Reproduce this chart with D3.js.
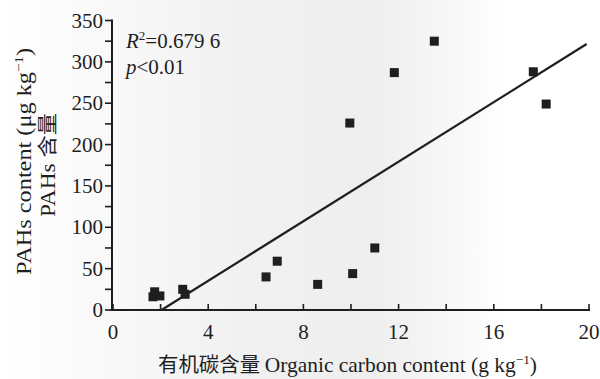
<!DOCTYPE html>
<html>
<head>
<meta charset="utf-8">
<script src="https://cdn.jsdelivr.net/npm/d3@7"></script>
<style>
  body { margin: 0; background: #fff; }
  svg text { font-family: "Liberation Serif", "DejaVu Serif", serif; fill: #1e1e1e; }
</style>
</head>
<body>
<svg width="600" height="379"></svg>
<script>
// Data
const carbon = [1.75, 1.68, 1.97, 2.93, 3.03, 6.43, 6.9, 8.6, 10.07, 11.0, 9.95, 11.82, 13.5, 17.66, 18.2];
const pahs = [22, 16, 17, 25, 19, 40, 59, 31, 44, 75, 226, 287, 325, 288, 249];
const fitX = [2.04, 19.9];
const fitY = [0, 321.6];
const xTicks = [0, 4, 8, 12, 16, 20];
const yTicks = [0, 50, 100, 150, 200, 250, 300, 350];

const svg = d3.select("svg");

// Scan-like shading
const defs = svg.append("defs");
const grad = defs.append("linearGradient").attr("id", "shade");
grad.append("stop").attr("offset", "0%").attr("stop-color", "#fff");
grad.append("stop").attr("offset", "40%").attr("stop-color", "#f1f1f1");
grad.append("stop").attr("offset", "62%").attr("stop-color", "#eeeeee");
grad.append("stop").attr("offset", "85%").attr("stop-color", "#fff");
svg.append("rect").attr("width", 600).attr("height", 379).attr("fill", "url(#shade)");

const x = d3.scaleLinear().domain([0, 20]).range([113, 589]);
const y = d3.scaleLinear().domain([0, 350]).range([310, 20.5]);

const ink = "#1e1e1e";

// x axis
const xAxis = svg.append("g").attr("transform", "translate(0,310)");
xAxis.append("line").attr("x1", 110).attr("x2", x(20) + 1).attr("stroke", ink).attr("stroke-width", 2);
xAxis.selectAll(".xt").data(d3.range(0, 21, 2)).enter().append("line")
  .attr("x1", d => x(d)).attr("x2", d => x(d))
  .attr("y1", 0).attr("y2", -6)
  .attr("stroke", ink).attr("stroke-width", 1.6);
xAxis.selectAll(".xl").data(xTicks).enter().append("text")
  .attr("x", d => x(d)).attr("y", 29)
  .attr("text-anchor", "middle")
  .attr("font-size", 21)
  .text(d => d);

// y axis
const yAxis = svg.append("g").attr("transform", "translate(112,0)");
yAxis.append("line").attr("y1", y(350) - 1).attr("y2", 311).attr("stroke", ink).attr("stroke-width", 2);
yAxis.selectAll(".yt").data(d3.range(0, 351, 25)).enter().append("line")
  .attr("y1", d => y(d)).attr("y2", d => y(d))
  .attr("x1", 0).attr("x2", -7)
  .attr("stroke", ink).attr("stroke-width", 1.6);
yAxis.selectAll(".yl").data(yTicks).enter().append("text")
  .attr("x", -9).attr("y", d => y(d) + 7)
  .attr("text-anchor", "end")
  .attr("font-size", 21)
  .text(d => d);

// axis titles
const xt = svg.append("text")
  .attr("x", 158).attr("y", 372)
  .attr("font-size", 21)
  .attr("textLength", 379)
  .attr("lengthAdjust", "spacingAndGlyphs");
xt.append("tspan").style("font-family", "'Noto Sans CJK SC', sans-serif").attr("font-size", 20).text("有机碳含量 ");
xt.append("tspan").text("Organic carbon content (g kg");
xt.append("tspan").attr("dy", -8).attr("font-size", 13).text("−1");
xt.append("tspan").attr("dy", 8).text(")");

const yt1 = svg.append("text")
  .attr("transform", "translate(31,275) rotate(-90)")
  .attr("font-size", 21)
  .attr("textLength", 227)
  .attr("lengthAdjust", "spacingAndGlyphs");
yt1.append("tspan").text("PAHs content (μg kg");
yt1.append("tspan").attr("dy", -8).attr("font-size", 13).text("−1");
yt1.append("tspan").attr("dy", 8).text(")");

const yt2 = svg.append("text")
  .attr("transform", "translate(55,217) rotate(-90)")
  .attr("font-size", 21)
  .attr("textLength", 104)
  .attr("lengthAdjust", "spacingAndGlyphs");
yt2.append("tspan").text("PAHs ");
yt2.append("tspan").style("font-family", "'Noto Sans CJK SC', sans-serif").attr("font-size", 20).text("含量");

// fit line
svg.append("line")
  .attr("x1", x(fitX[0])).attr("y1", y(fitY[0]))
  .attr("x2", x(fitX[1])).attr("y2", y(fitY[1]))
  .attr("stroke", ink).attr("stroke-width", 2.2);

// points
const s = 9;
svg.selectAll(".pt").data(carbon).enter().append("rect")
  .attr("x", d => x(d) - s / 2)
  .attr("y", (d, i) => y(pahs[i]) - s / 2)
  .attr("width", s).attr("height", s)
  .attr("fill", ink);

// stats
const r2 = svg.append("text").attr("x", 126).attr("y", 48).attr("font-size", 21);
r2.append("tspan").attr("font-style", "italic").text("R");
r2.append("tspan").attr("dy", -8).attr("font-size", 13).text("2");
r2.append("tspan").attr("dy", 8).text("=0.679 6");

const pv = svg.append("text").attr("x", 126).attr("y", 74).attr("font-size", 21);
pv.append("tspan").attr("font-style", "italic").text("p");
pv.append("tspan").text("<0.01");
</script>
</body>
</html>
